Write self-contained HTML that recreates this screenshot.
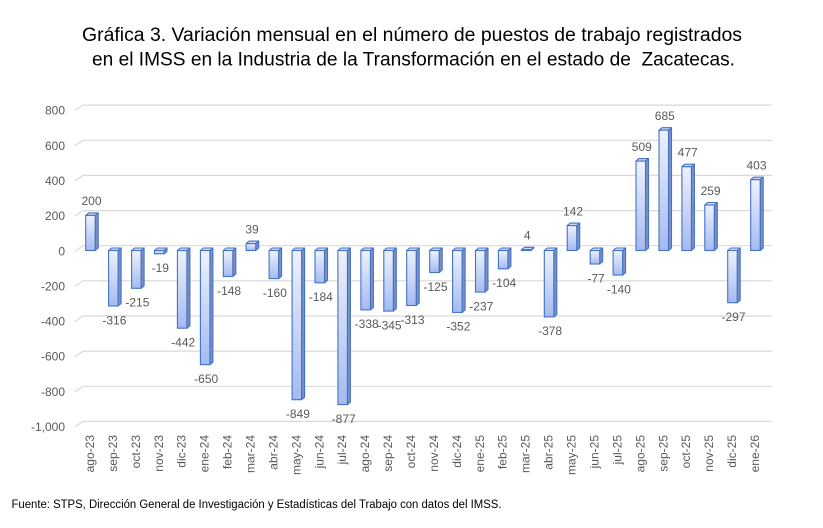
<!DOCTYPE html>
<html>
<head>
<meta charset="utf-8">
<style>
html,body{margin:0;padding:0;background:#fff;}
svg{display:block;}
.f{fill:url(#g);stroke:#4472c4;stroke-width:1.1;}
.s{fill:#7d90c4;stroke:#4472c4;stroke-width:1.1;stroke-linejoin:round;}
.t{fill:#cdd9f6;stroke:#4472c4;stroke-width:1.1;stroke-linejoin:round;}
.gl{fill:none;stroke:#d9d9d9;stroke-width:1.2;}
.lab{font-family:"Liberation Sans",sans-serif;font-size:12px;fill:#595959;}
.ya{text-anchor:end;}
.vl{text-anchor:middle;}
.xl{text-anchor:end;}
.title{font-family:"Liberation Sans",sans-serif;font-size:19px;fill:#000;white-space:pre;}
.foot{font-family:"Liberation Sans",sans-serif;font-size:11.5px;fill:#000;}
</style>
</head>
<body>
<svg width="823" height="528" viewBox="0 0 823 528" xmlns="http://www.w3.org/2000/svg">
<defs>
<linearGradient id="g" x1="0" y1="0" x2="0" y2="1">
<stop offset="0" stop-color="#eef2fd"/>
<stop offset="1" stop-color="#a4baf1"/>
</linearGradient>
</defs>
<rect width="823" height="528" fill="#fff"/>

<text class="title" x="82" y="41" textLength="660" lengthAdjust="spacingAndGlyphs">Gráfica 3. Variación mensual en el número de puestos de trabajo registrados</text>
<text class="title" x="92" y="65.5" textLength="643" lengthAdjust="spacingAndGlyphs">en el IMSS en la Industria de la Transformación en el estado de  Zacatecas.</text>

<!-- gridlines -->
<path class="gl" d="M75,110.6 L83,105.1 L772,105.1"/>
<path class="gl" d="M75,145.8 L83,140.3 L772,140.3"/>
<path class="gl" d="M75,180.9 L83,175.4 L772,175.4"/>
<path class="gl" d="M75,216.1 L83,210.6 L772,210.6"/>
<path class="gl" d="M75,251.2 L83,245.7 L772,245.7"/>
<path class="gl" d="M75,286.3 L83,280.8 L772,280.8"/>
<path class="gl" d="M75,321.5 L83,316.0 L772,316.0"/>
<path class="gl" d="M75,356.6 L83,351.1 L772,351.1"/>
<path class="gl" d="M75,391.8 L83,386.3 L772,386.3"/>
<path class="gl" d="M75,426.9 L83,421.4 L772,421.4"/>

<!-- y axis labels -->
<text class="lab ya" x="65" y="114.7">800</text>
<text class="lab ya" x="65" y="149.9">600</text>
<text class="lab ya" x="65" y="185.0">400</text>
<text class="lab ya" x="65" y="220.2">200</text>
<text class="lab ya" x="65" y="255.3">0</text>
<text class="lab ya" x="65" y="290.4">-200</text>
<text class="lab ya" x="65" y="325.6">-400</text>
<text class="lab ya" x="65" y="360.7">-600</text>
<text class="lab ya" x="65" y="395.9">-800</text>
<text class="lab ya" x="65" y="431.0">-1,000</text>

<!-- bars -->
<g transform="translate(85.7,0)"><polygon class="s" points="9.5,215.4 12.5,212.9 12.5,248 9.5,250.5"/><polygon class="t" points="0,215.4 3,212.9 12.5,212.9 9.5,215.4"/><rect class="f" x="0" y="215.4" width="9.5" height="35.1"/></g>
<g transform="translate(108.6,0)"><polygon class="s" points="9.5,250.5 12.5,248 12.5,303.5 9.5,306"/><polygon class="t" points="0,250.5 3,248 12.5,248 9.5,250.5"/><rect class="f" x="0" y="250.5" width="9.5" height="55.5"/></g>
<g transform="translate(131.6,0)"><polygon class="s" points="9.5,250.5 12.5,248 12.5,285.8 9.5,288.3"/><polygon class="t" points="0,250.5 3,248 12.5,248 9.5,250.5"/><rect class="f" x="0" y="250.5" width="9.5" height="37.8"/></g>
<g transform="translate(154.5,0)"><polygon class="s" points="9.5,250.5 12.5,248 12.5,251.3 9.5,253.8"/><polygon class="t" points="0,250.5 3,248 12.5,248 9.5,250.5"/><rect class="f" x="0" y="250.5" width="9.5" height="3.3"/></g>
<g transform="translate(177.4,0)"><polygon class="s" points="9.5,250.5 12.5,248 12.5,325.7 9.5,328.2"/><polygon class="t" points="0,250.5 3,248 12.5,248 9.5,250.5"/><rect class="f" x="0" y="250.5" width="9.5" height="77.7"/></g>
<g transform="translate(200.4,0)"><polygon class="s" points="9.5,250.5 12.5,248 12.5,362.2 9.5,364.7"/><polygon class="t" points="0,250.5 3,248 12.5,248 9.5,250.5"/><rect class="f" x="0" y="250.5" width="9.5" height="114.2"/></g>
<g transform="translate(223.3,0)"><polygon class="s" points="9.5,250.5 12.5,248 12.5,274 9.5,276.5"/><polygon class="t" points="0,250.5 3,248 12.5,248 9.5,250.5"/><rect class="f" x="0" y="250.5" width="9.5" height="26"/></g>
<g transform="translate(246.2,0)"><polygon class="s" points="9.5,243.6 12.5,241.1 12.5,248 9.5,250.5"/><polygon class="t" points="0,243.6 3,241.1 12.5,241.1 9.5,243.6"/><rect class="f" x="0" y="243.6" width="9.5" height="6.9"/></g>
<g transform="translate(269.1,0)"><polygon class="s" points="9.5,250.5 12.5,248 12.5,276.1 9.5,278.6"/><polygon class="t" points="0,250.5 3,248 12.5,248 9.5,250.5"/><rect class="f" x="0" y="250.5" width="9.5" height="28.1"/></g>
<g transform="translate(292.1,0)"><polygon class="s" points="9.5,250.5 12.5,248 12.5,397.2 9.5,399.7"/><polygon class="t" points="0,250.5 3,248 12.5,248 9.5,250.5"/><rect class="f" x="0" y="250.5" width="9.5" height="149.2"/></g>
<g transform="translate(315.0,0)"><polygon class="s" points="9.5,250.5 12.5,248 12.5,280.3 9.5,282.8"/><polygon class="t" points="0,250.5 3,248 12.5,248 9.5,250.5"/><rect class="f" x="0" y="250.5" width="9.5" height="32.3"/></g>
<g transform="translate(337.9,0)"><polygon class="s" points="9.5,250.5 12.5,248 12.5,402.1 9.5,404.6"/><polygon class="t" points="0,250.5 3,248 12.5,248 9.5,250.5"/><rect class="f" x="0" y="250.5" width="9.5" height="154.1"/></g>
<g transform="translate(360.9,0)"><polygon class="s" points="9.5,250.5 12.5,248 12.5,307.4 9.5,309.9"/><polygon class="t" points="0,250.5 3,248 12.5,248 9.5,250.5"/><rect class="f" x="0" y="250.5" width="9.5" height="59.4"/></g>
<g transform="translate(383.8,0)"><polygon class="s" points="9.5,250.5 12.5,248 12.5,308.6 9.5,311.1"/><polygon class="t" points="0,250.5 3,248 12.5,248 9.5,250.5"/><rect class="f" x="0" y="250.5" width="9.5" height="60.6"/></g>
<g transform="translate(406.7,0)"><polygon class="s" points="9.5,250.5 12.5,248 12.5,303 9.5,305.5"/><polygon class="t" points="0,250.5 3,248 12.5,248 9.5,250.5"/><rect class="f" x="0" y="250.5" width="9.5" height="55"/></g>
<g transform="translate(429.7,0)"><polygon class="s" points="9.5,250.5 12.5,248 12.5,270 9.5,272.5"/><polygon class="t" points="0,250.5 3,248 12.5,248 9.5,250.5"/><rect class="f" x="0" y="250.5" width="9.5" height="22"/></g>
<g transform="translate(452.6,0)"><polygon class="s" points="9.5,250.5 12.5,248 12.5,309.9 9.5,312.4"/><polygon class="t" points="0,250.5 3,248 12.5,248 9.5,250.5"/><rect class="f" x="0" y="250.5" width="9.5" height="61.9"/></g>
<g transform="translate(475.5,0)"><polygon class="s" points="9.5,250.5 12.5,248 12.5,289.6 9.5,292.1"/><polygon class="t" points="0,250.5 3,248 12.5,248 9.5,250.5"/><rect class="f" x="0" y="250.5" width="9.5" height="41.6"/></g>
<g transform="translate(498.4,0)"><polygon class="s" points="9.5,250.5 12.5,248 12.5,266.3 9.5,268.8"/><polygon class="t" points="0,250.5 3,248 12.5,248 9.5,250.5"/><rect class="f" x="0" y="250.5" width="9.5" height="18.3"/></g>
<g transform="translate(521.4,0)"><polygon class="s" points="9.5,249.8 12.5,247.3 12.5,248 9.5,250.5"/><polygon class="t" points="0,249.8 3,247.3 12.5,247.3 9.5,249.8"/><rect class="f" x="0" y="249.8" width="9.5" height="0.7"/></g>
<g transform="translate(544.3,0)"><polygon class="s" points="9.5,250.5 12.5,248 12.5,314.4 9.5,316.9"/><polygon class="t" points="0,250.5 3,248 12.5,248 9.5,250.5"/><rect class="f" x="0" y="250.5" width="9.5" height="66.4"/></g>
<g transform="translate(567.2,0)"><polygon class="s" points="9.5,225.6 12.5,223.1 12.5,248 9.5,250.5"/><polygon class="t" points="0,225.6 3,223.1 12.5,223.1 9.5,225.6"/><rect class="f" x="0" y="225.6" width="9.5" height="24.9"/></g>
<g transform="translate(590.2,0)"><polygon class="s" points="9.5,250.5 12.5,248 12.5,261.5 9.5,264"/><polygon class="t" points="0,250.5 3,248 12.5,248 9.5,250.5"/><rect class="f" x="0" y="250.5" width="9.5" height="13.5"/></g>
<g transform="translate(613.1,0)"><polygon class="s" points="9.5,250.5 12.5,248 12.5,272.6 9.5,275.1"/><polygon class="t" points="0,250.5 3,248 12.5,248 9.5,250.5"/><rect class="f" x="0" y="250.5" width="9.5" height="24.6"/></g>
<g transform="translate(636.0,0)"><polygon class="s" points="9.5,161.1 12.5,158.6 12.5,248 9.5,250.5"/><polygon class="t" points="0,161.1 3,158.6 12.5,158.6 9.5,161.1"/><rect class="f" x="0" y="161.1" width="9.5" height="89.4"/></g>
<g transform="translate(659.0,0)"><polygon class="s" points="9.5,130.2 12.5,127.7 12.5,248 9.5,250.5"/><polygon class="t" points="0,130.2 3,127.7 12.5,127.7 9.5,130.2"/><rect class="f" x="0" y="130.2" width="9.5" height="120.3"/></g>
<g transform="translate(681.9,0)"><polygon class="s" points="9.5,166.7 12.5,164.2 12.5,248 9.5,250.5"/><polygon class="t" points="0,166.7 3,164.2 12.5,164.2 9.5,166.7"/><rect class="f" x="0" y="166.7" width="9.5" height="83.8"/></g>
<g transform="translate(704.8,0)"><polygon class="s" points="9.5,205 12.5,202.5 12.5,248 9.5,250.5"/><polygon class="t" points="0,205 3,202.5 12.5,202.5 9.5,205"/><rect class="f" x="0" y="205" width="9.5" height="45.5"/></g>
<g transform="translate(727.7,0)"><polygon class="s" points="9.5,250.5 12.5,248 12.5,300.2 9.5,302.7"/><polygon class="t" points="0,250.5 3,248 12.5,248 9.5,250.5"/><rect class="f" x="0" y="250.5" width="9.5" height="52.2"/></g>
<g transform="translate(750.7,0)"><polygon class="s" points="9.5,179.7 12.5,177.2 12.5,248 9.5,250.5"/><polygon class="t" points="0,179.7 3,177.2 12.5,177.2 9.5,179.7"/><rect class="f" x="0" y="179.7" width="9.5" height="70.8"/></g>

<!-- value labels -->
<text class="lab vl" x="91.5" y="205.2">200</text>
<text class="lab vl" x="114.4" y="324.3">-316</text>
<text class="lab vl" x="137.4" y="306.6">-215</text>
<text class="lab vl" x="160.3" y="272.1">-19</text>
<text class="lab vl" x="183.2" y="346.5">-442</text>
<text class="lab vl" x="206.2" y="383.0">-650</text>
<text class="lab vl" x="229.1" y="294.8">-148</text>
<text class="lab vl" x="252.0" y="233.5">39</text>
<text class="lab vl" x="274.9" y="296.9">-160</text>
<text class="lab vl" x="297.9" y="418.0">-849</text>
<text class="lab vl" x="320.8" y="301.1">-184</text>
<text class="lab vl" x="343.7" y="422.9">-877</text>
<text class="lab vl" x="366.7" y="328.2">-338</text>
<text class="lab vl" x="389.6" y="329.4">-345</text>
<text class="lab vl" x="412.5" y="323.8">-313</text>
<text class="lab vl" x="435.5" y="290.8">-125</text>
<text class="lab vl" x="458.4" y="330.7">-352</text>
<text class="lab vl" x="481.3" y="310.4">-237</text>
<text class="lab vl" x="504.2" y="287.1">-104</text>
<text class="lab vl" x="527.2" y="239.6">4</text>
<text class="lab vl" x="550.1" y="335.2">-378</text>
<text class="lab vl" x="573.0" y="215.4">142</text>
<text class="lab vl" x="596.0" y="282.3">-77</text>
<text class="lab vl" x="618.9" y="293.4">-140</text>
<text class="lab vl" x="641.8" y="150.9">509</text>
<text class="lab vl" x="664.8" y="120.0">685</text>
<text class="lab vl" x="687.7" y="156.5">477</text>
<text class="lab vl" x="710.6" y="194.8">259</text>
<text class="lab vl" x="733.5" y="321.0">-297</text>
<text class="lab vl" x="756.5" y="169.5">403</text>

<!-- category labels -->
<text class="lab xl" transform="translate(94.0,435) rotate(-90)">ago-23</text>
<text class="lab xl" transform="translate(116.9,435) rotate(-90)">sep-23</text>
<text class="lab xl" transform="translate(139.9,435) rotate(-90)">oct-23</text>
<text class="lab xl" transform="translate(162.8,435) rotate(-90)">nov-23</text>
<text class="lab xl" transform="translate(185.7,435) rotate(-90)">dic-23</text>
<text class="lab xl" transform="translate(208.7,435) rotate(-90)">ene-24</text>
<text class="lab xl" transform="translate(231.6,435) rotate(-90)">feb-24</text>
<text class="lab xl" transform="translate(254.5,435) rotate(-90)">mar-24</text>
<text class="lab xl" transform="translate(277.4,435) rotate(-90)">abr-24</text>
<text class="lab xl" transform="translate(300.4,435) rotate(-90)">may-24</text>
<text class="lab xl" transform="translate(323.3,435) rotate(-90)">jun-24</text>
<text class="lab xl" transform="translate(346.2,435) rotate(-90)">jul-24</text>
<text class="lab xl" transform="translate(369.2,435) rotate(-90)">ago-24</text>
<text class="lab xl" transform="translate(392.1,435) rotate(-90)">sep-24</text>
<text class="lab xl" transform="translate(415.0,435) rotate(-90)">oct-24</text>
<text class="lab xl" transform="translate(438.0,435) rotate(-90)">nov-24</text>
<text class="lab xl" transform="translate(460.9,435) rotate(-90)">dic-24</text>
<text class="lab xl" transform="translate(483.8,435) rotate(-90)">ene-25</text>
<text class="lab xl" transform="translate(506.7,435) rotate(-90)">feb-25</text>
<text class="lab xl" transform="translate(529.7,435) rotate(-90)">mar-25</text>
<text class="lab xl" transform="translate(552.6,435) rotate(-90)">abr-25</text>
<text class="lab xl" transform="translate(575.5,435) rotate(-90)">may-25</text>
<text class="lab xl" transform="translate(598.5,435) rotate(-90)">jun-25</text>
<text class="lab xl" transform="translate(621.4,435) rotate(-90)">jul-25</text>
<text class="lab xl" transform="translate(644.3,435) rotate(-90)">ago-25</text>
<text class="lab xl" transform="translate(667.3,435) rotate(-90)">sep-25</text>
<text class="lab xl" transform="translate(690.2,435) rotate(-90)">oct-25</text>
<text class="lab xl" transform="translate(713.1,435) rotate(-90)">nov-25</text>
<text class="lab xl" transform="translate(736.0,435) rotate(-90)">dic-25</text>
<text class="lab xl" transform="translate(759.0,435) rotate(-90)">ene-26</text>

<text class="foot" x="11.5" y="508" textLength="490" lengthAdjust="spacingAndGlyphs">Fuente: STPS, Dirección General de Investigación y Estadísticas del Trabajo con datos del IMSS.</text>
</svg>
</body>
</html>
